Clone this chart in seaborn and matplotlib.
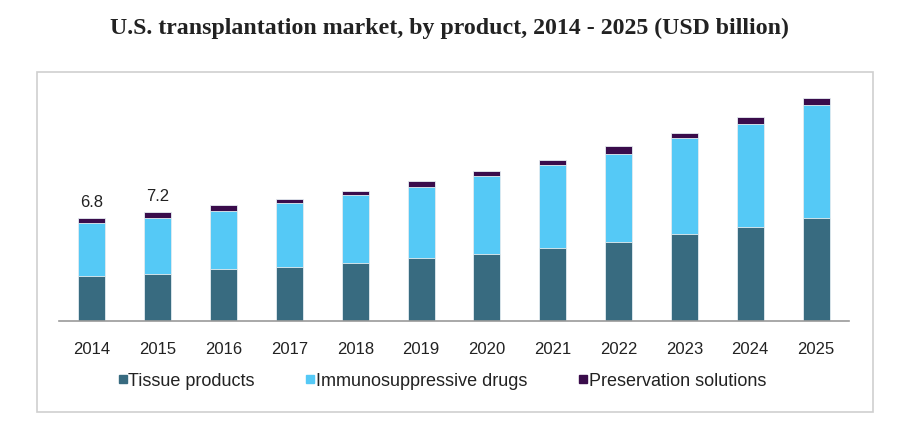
import numpy as np
import pandas as pd
import matplotlib
matplotlib.use("Agg")
import matplotlib.pyplot as plt
import seaborn as sns
from matplotlib.lines import Line2D
from matplotlib.patches import Rectangle

# Values (USD billion)
years = ["2014", "2015", "2016", "2017", "2018", "2019",
         "2020", "2021", "2022", "2023", "2024", "2025"]
tissue = [2.98, 3.14, 3.42, 3.58, 3.84, 4.20, 4.46, 4.81, 5.26, 5.74, 6.25, 6.80]
immuno = [3.53, 3.71, 3.88, 4.24, 4.50, 4.68, 5.12, 5.50, 5.83, 6.36, 6.82, 7.50]
preserv = [0.29, 0.35, 0.38, 0.29, 0.29, 0.38, 0.38, 0.38, 0.48, 0.37, 0.46, 0.44]
labeled = {"2014": "6.8", "2015": "7.2"}

series_names = ["Tissue products", "Immunosuppressive drugs", "Preservation solutions"]
colors = ["#386b80", "#55c9f6", "#3a0c4b"]

df = pd.DataFrame({"year": years, "tissue": tissue, "immuno": immuno, "preserv": preserv})
df["lvl1"] = df["tissue"]
df["lvl2"] = df["tissue"] + df["immuno"]
df["lvl3"] = df["lvl2"] + df["preserv"]

sns.set_style("white")
plt.rcParams["font.family"] = ["Liberation Sans", "DejaVu Sans"]

fig = plt.figure(figsize=(8.99, 4.24), dpi=100)
ax = fig.add_axes([59 / 899, (424 - 321) / 424, 790 / 899, 241.6 / 424])

# stacked bars drawn as overlapping cumulative totals
for col, c in zip(["lvl3", "lvl2", "lvl1"], colors[::-1]):
    sns.barplot(data=df, x="year", y=col, color=c, width=0.41,
                edgecolor="#e6eef2", linewidth=0.6, saturation=1, ax=ax)

ax.set_ylim(0, 16)
ax.set_xlim(-0.5, len(years) - 0.5)
ax.set_xlabel("")
ax.set_ylabel("")
ax.set_yticks([])
for s in ["top", "right", "left"]:
    ax.spines[s].set_visible(False)
ax.spines["bottom"].set_color("#9a9a9a")
ax.spines["bottom"].set_linewidth(1.2)

ax.set_xticks(np.arange(-0.5, len(years), 1.0), minor=True)
ax.tick_params(axis="x", which="minor", length=5, width=1.2, color="#9a9a9a", direction="out")
ax.tick_params(axis="x", which="major", length=0, pad=15, labelsize=12, labelcolor="#222222")

for i, y in enumerate(years):
    if y in labeled:
        ax.annotate(labeled[y], (i, df["lvl3"][i]), xytext=(0, 6),
                    textcoords="offset points", ha="center", va="bottom",
                    fontsize=12, color="#222222")

handles = [Line2D([0], [0], marker="s", linestyle="", markersize=6,
                  markerfacecolor=c, markeredgecolor=c) for c in colors]
fig.legend(handles, series_names, loc="center", bbox_to_anchor=(442 / 899, (424 - 381) / 424),
           ncol=3, frameon=False, fontsize=13, handletextpad=0.05, columnspacing=2.8,
           handlelength=0.55, labelcolor="#222222")

fig.patches.append(Rectangle((37 / 899, 12 / 424), 836 / 899, 340 / 424,
                             transform=fig.transFigure, fill=False,
                             edgecolor="#cfcfcf", linewidth=1.2))

fig.text(0.5, (424 - 28) / 424, "U.S. transplantation market, by product, 2014 - 2025 (USD billion)",
         ha="center", va="center", fontsize=17.2, fontweight="bold",
         family=["Liberation Serif", "DejaVu Serif"], color="#222222")

fig.savefig("out.png", dpi=100)
